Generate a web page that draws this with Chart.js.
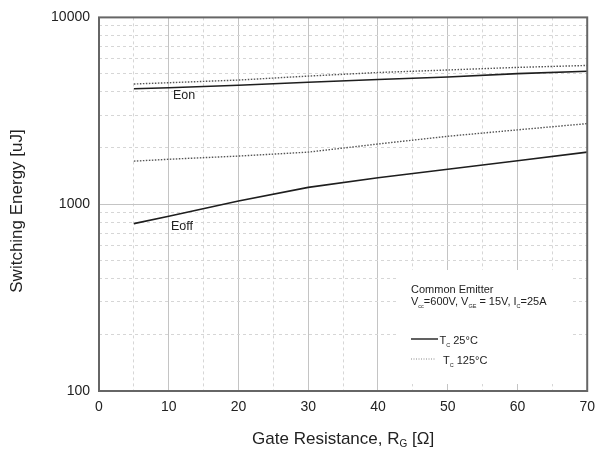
<!DOCTYPE html>
<html><head><meta charset="utf-8">
<script src="https://cdn.jsdelivr.net/npm/chart.js@4/dist/chart.umd.min.js"></script>
<style>html,body{margin:0;padding:0;background:#fff}canvas{display:block}</style>
</head><body>
<canvas id="c" width="603" height="451"></canvas>
<script>
// ---- data ----
const rg      = [5, 10, 20, 30, 40, 50, 60, 70];
const eon25   = [4150, 4200, 4330, 4500, 4650, 4800, 5000, 5150];
const eon125  = [4400, 4470, 4620, 4850, 5070, 5230, 5400, 5530];
const eoff25  = [787, 862, 1040, 1230, 1385, 1540, 1710, 1900];
const eoff125 = [1700, 1740, 1810, 1900, 2100, 2310, 2500, 2700];
const xGrid   = [0, 5, 10, 15, 20, 25, 30, 35, 40, 45, 50, 55, 60, 65, 70];
const xLabels = [0, 10, 20, 30, 40, 50, 60, 70];
const yGrid   = [100, 200, 300, 400, 500, 600, 700, 800, 900,
                 1000, 2000, 3000, 4000, 5000, 6000, 7000, 8000, 9000, 10000];
const yLabels = [100, 1000, 10000];
const curveNames = ['Eon', 'Eoff'];
const legendTitle = 'Common Emitter';

const FONT = '"Liberation Sans", Arial, Helvetica, sans-serif';
const INK = '#222';

function pts(ys) { return rg.map((x, i) => ({x: x, y: ys[i]})); }

const solid = {borderColor: '#1e1e1e', borderWidth: 1.6, borderDash: []};
const dotted = {borderColor: '#555', borderWidth: 1.4, borderDash: [1.5, 1.5]};

function drawSub(ctx, x, y, segs, size, subSize) {
  let cx = x;
  for (const [t, sub] of segs) {
    ctx.font = (sub ? subSize : size) + 'px ' + FONT;
    ctx.fillText(t, cx, sub ? y + 3 : y);
    cx += ctx.measureText(t).width;
  }
  return cx;
}

const deco = {
  id: 'deco',
  beforeDatasetsDraw(chart) {
    const ctx = chart.ctx;
    ctx.save();
    ctx.fillStyle = '#fff';
    ctx.fillRect(398, 270, 174, 114);
    ctx.restore();
  },
  afterDatasetsDraw(chart) {
    const ctx = chart.ctx;
    const ca = chart.chartArea;
    ctx.save();
    // frame
    ctx.strokeStyle = '#666';
    ctx.lineWidth = 2;
    ctx.strokeRect(ca.left, ca.top, ca.right - ca.left, ca.bottom - ca.top);

    ctx.fillStyle = INK;
    ctx.textBaseline = 'alphabetic';
    // curve labels
    ctx.font = '12.5px ' + FONT;
    ctx.textAlign = 'left';
    ctx.fillText(curveNames[0], 173, 99);
    ctx.fillText(curveNames[1], 171, 230);

    // legend block
    ctx.font = '11px ' + FONT;
    ctx.fillText(legendTitle, 411, 293);
    drawSub(ctx, 411, 305, [['V', 0], ['cc', 1], ['=600V, V', 0], ['GE', 1], [' = 15V, I', 0], ['C', 1], ['=25A', 0]], 11, 5.5);

    ctx.strokeStyle = '#1e1e1e';
    ctx.lineWidth = 1.4;
    ctx.beginPath(); ctx.moveTo(411, 339); ctx.lineTo(438, 339); ctx.stroke();
    drawSub(ctx, 439.5, 344, [['T', 0], ['C', 1], [' 25\u00B0C', 0]], 11, 5.5);

    ctx.strokeStyle = '#888';
    ctx.lineWidth = 1;
    ctx.setLineDash([1, 1.5]);
    ctx.beginPath(); ctx.moveTo(411, 359); ctx.lineTo(435, 359); ctx.stroke();
    ctx.setLineDash([]);
    drawSub(ctx, 443, 364, [['T', 0], ['C', 1], [' 125\u00B0C', 0]], 11, 5.5);

    // y axis title
    ctx.save();
    ctx.translate(17.5, 211);
    ctx.rotate(-Math.PI / 2);
    ctx.font = '17px ' + FONT;
    ctx.textAlign = 'center';
    ctx.textBaseline = 'middle';
    ctx.fillText('Switching Energy [uJ]', 0, 0);
    ctx.restore();

    // x axis title with subscript
    const segs = [['Gate Resistance, R', 0], ['G', 1], [' [\u03A9]', 0]];
    let w = 0;
    for (const [t, sub] of segs) { ctx.font = (sub ? 10 : 17) + 'px ' + FONT; w += ctx.measureText(t).width; }
    const midX = (ca.left + ca.right) / 2;
    ctx.textAlign = 'left';
    drawSub(ctx, midX - w / 2, 444, segs, 17, 10);
    ctx.restore();
  }
};

const isDecade = v => yLabels.includes(v);

new Chart(document.getElementById('c'), {
  type: 'line',
  data: {
    datasets: [
      Object.assign({label: 'Eon 25', data: pts(eon25)}, solid),
      Object.assign({label: 'Eon 125', data: pts(eon125)}, dotted),
      Object.assign({label: 'Eoff 25', data: pts(eoff25)}, solid),
      Object.assign({label: 'Eoff 125', data: pts(eoff125)}, dotted)
    ]
  },
  options: {
    responsive: false,
    devicePixelRatio: 1,
    animation: false,
    layout: {padding: {top: 11, right: 12, left: 0, bottom: 0}},
    elements: {point: {radius: 0}, line: {tension: 0, fill: false}},
    plugins: {legend: {display: false}, tooltip: {enabled: false}},
    scales: {
      x: {
        type: 'linear', min: 0, max: 70,
        afterBuildTicks: s => { s.ticks = xGrid.map(v => ({value: v})); },
        afterFit: s => { s.height = 60; },
        ticks: {
          autoSkip: false, maxRotation: 0, padding: 8, color: INK,
          font: {family: FONT, size: 14},
          callback: v => xLabels.includes(v) ? String(v) : ''
        },
        grid: {
          drawTicks: false,
          color: c => (c.tick && c.tick.value % 10 === 0) ? '#c4c4c4' : '#d6d6d6',
          lineWidth: 1
        },
        border: {display: false, dash: c => (c.tick && c.tick.value % 10 !== 0) ? [3, 3] : []}
      },
      y: {
        type: 'logarithmic', min: 100, max: 10000,
        afterBuildTicks: s => { s.ticks = yGrid.map(v => ({value: v})); },
        afterFit: s => { s.width = 99; },
        ticks: {
          autoSkip: false, padding: 9, color: INK,
          font: {family: FONT, size: 14},
          callback: v => isDecade(v) ? String(v) : ''
        },
        grid: {
          drawTicks: false,
          color: c => (c.tick && isDecade(c.tick.value)) ? '#c4c4c4' : '#d6d6d6',
          lineWidth: 1
        },
        border: {display: false, dash: c => (c.tick && !isDecade(c.tick.value)) ? [3, 3] : []}
      }
    }
  },
  plugins: [deco]
});
</script>
</body></html>
